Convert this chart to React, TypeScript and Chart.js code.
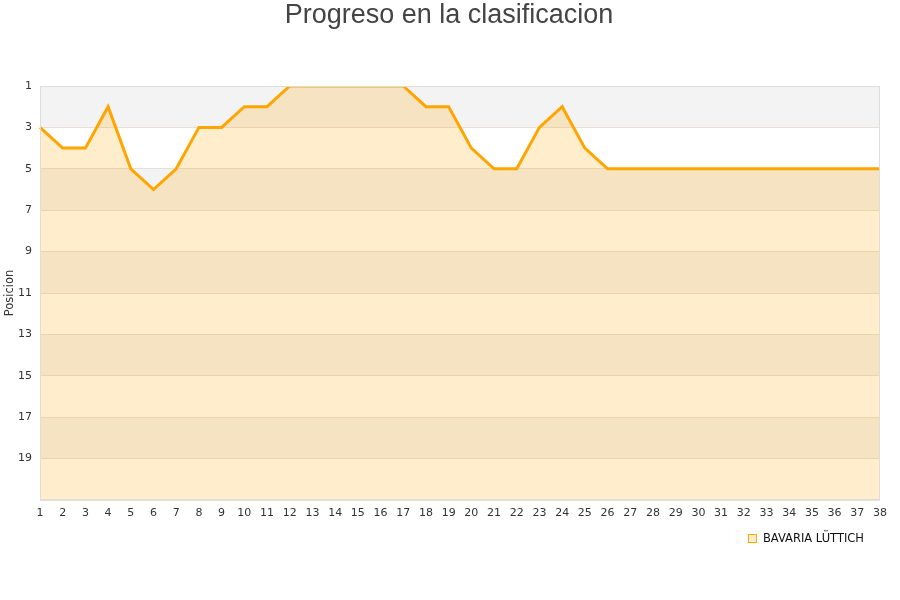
import React, { useEffect, useRef } from 'react';
import { Chart, registerables } from 'chart.js';

Chart.register(...registerables);

const chartTitle = 'Progreso en la clasificacion';
const yAxisTitle = 'Posicion';
const teamName = 'BAVARIA LÜTTICH';
const rounds = ['1','2','3','4','5','6','7','8','9','10','11','12','13','14','15','16','17','18','19','20','21','22','23','24','25','26','27','28','29','30','31','32','33','34','35','36','37','38'];
const positions = [3,4,4,2,5,6,5,3,3,2,2,1,1,1,1,1,1,2,2,4,5,5,3,2,4,5,5,5,5,5,5,5,5,5,5,5,5,5];
const yMin = 1;
const yMax = 21;
const shadedBands = [[1,3],[5,7],[9,11],[13,15],[17,19]];

const lineColor = '#FFA500';
const fillColor = 'rgba(255,165,0,0.2)';

const decorPlugin = {
  id: 'decor',
  beforeDraw(chart: any) {
    const { ctx, chartArea } = chart;
    const y = chart.scales.y;
    ctx.save();
    ctx.fillStyle = '#ffffff';
    ctx.fillRect(chartArea.left, chartArea.top, chartArea.right - chartArea.left, chartArea.bottom - chartArea.top);
    ctx.fillStyle = '#f3f3f3';
    for (const [a, b] of shadedBands) {
      const p1 = y.getPixelForValue(a);
      const p2 = y.getPixelForValue(b);
      ctx.fillRect(chartArea.left, Math.min(p1, p2), chartArea.right - chartArea.left, Math.abs(p2 - p1));
    }
    ctx.restore();
  },
  afterDatasetsDraw(chart: any) {
    const { ctx, chartArea } = chart;
    ctx.save();
    ctx.strokeStyle = '#dddddd';
    ctx.lineWidth = 1;
    ctx.strokeRect(chartArea.left + 0.5, chartArea.top + 0.5, chartArea.right - chartArea.left - 1, chartArea.bottom - chartArea.top - 1);
    ctx.restore();
  },
  afterDraw(chart: any) {
    const { ctx, width } = chart;
    ctx.save();
    // title
    ctx.fillStyle = '#444444';
    ctx.font = '27px "Liberation Sans", Arial, sans-serif';
    ctx.textAlign = 'center';
    ctx.textBaseline = 'middle';
    ctx.fillText(chartTitle, width / 2 - 1, 16);
    // legend
    ctx.font = '11.5px "DejaVu Sans", sans-serif';
    ctx.textAlign = 'left';
    const textW = ctx.measureText(teamName).width;
    const textX = 864 - textW;
    const boxX = textX - 15;
    ctx.fillStyle = fillColor;
    ctx.fillRect(boxX + 0.5, 534.5, 8, 8);
    ctx.strokeStyle = lineColor;
    ctx.lineWidth = 1;
    ctx.strokeRect(boxX + 0.5, 534.5, 8, 8);
    ctx.fillStyle = '#111111';
    ctx.fillText(teamName, textX, 539);
    ctx.restore();
  },
};

export default function App() {
  const ref = useRef<HTMLCanvasElement>(null);
  useEffect(() => {
    if (!ref.current) return;
    const chart = new Chart(ref.current, {
      type: 'line',
      data: {
        labels: rounds,
        datasets: [
          {
            label: teamName,
            data: positions,
            borderColor: lineColor,
            backgroundColor: fillColor,
            borderWidth: 3,
            pointRadius: 0,
            tension: 0,
            fill: { value: yMax } as any,
          },
        ],
      },
      options: {
        animation: false,
        responsive: false,
        maintainAspectRatio: false,
        layout: { padding: { left: 0, right: 20, top: 86, bottom: 78 } },
        plugins: {
          title: { display: false },
          legend: { display: false },
          tooltip: { enabled: false },
        },
        scales: {
          x: {
            type: 'category',
            offset: false,
            grid: { display: false, drawTicks: false, tickLength: 0 },
            border: { display: false },
            ticks: {
              autoSkip: false,
              maxRotation: 0,
              color: '#333333',
              padding: 7,
              font: { family: 'DejaVu Sans, sans-serif', size: 11 },
            },
            afterFit: (s: any) => { s.height = 22; },
          },
          y: {
            type: 'linear',
            reverse: true,
            min: yMin,
            max: yMax,
            grid: { color: '#e6e0d6', drawTicks: false },
            border: { display: false },
            ticks: {
              stepSize: 2,
              color: '#333333',
              padding: 8,
              font: { family: 'DejaVu Sans, sans-serif', size: 11 },
              callback: (v: any) => (v === yMax ? '' : String(v)),
            },
            title: {
              display: true,
              text: yAxisTitle,
              color: '#333333',
              font: { family: 'DejaVu Sans, sans-serif', size: 11.5 },
              padding: { top: 3, bottom: 0 },
            },
            afterFit: (s: any) => { s.width = 40; },
          },
        },
      },
      plugins: [decorPlugin],
    });
    return () => chart.destroy();
  }, []);
  return (
    <div style={{ position: 'absolute', left: 0, top: 0, width: 900, height: 600 }}>
      <canvas ref={ref} width={900} height={600} style={{ width: 900, height: 600 }} />
    </div>
  );
}
